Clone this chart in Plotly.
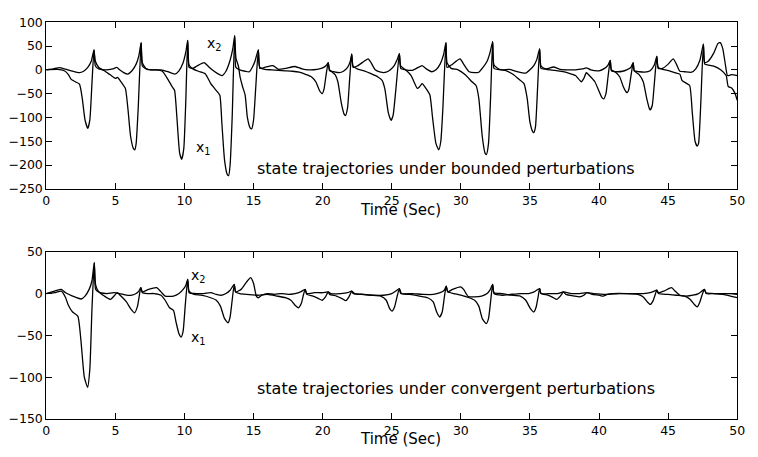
import plotly.graph_objects as go

# ---------------- data: top panel (bounded perturbations) ----------------
t_top_x1 = [0, 0.8, 1.3, 1.6, 1.8, 2.1, 2.4, 2.6, 2.8, 3.0, 3.15, 3.3, 3.45,
            3.55, 3.8, 4.2, 4.6, 5.0, 5.15, 5.4, 5.72,
            5.9, 6.1, 6.3, 6.4, 6.5, 6.65, 6.86,
            6.95, 7.2, 7.6, 8.0, 8.4, 8.8, 9.1, 9.28,
            9.45, 9.65, 9.8, 9.95, 10.1, 10.23,
            10.33, 10.6, 11.0, 11.5, 11.9, 12.2, 12.55,
            12.7, 12.9, 13.1, 13.2, 13.3, 13.45, 13.63,
            13.72, 13.9, 14.03, 14.2, 14.39,
            14.55, 14.75, 14.86, 15.0, 15.15, 15.34,
            15.45, 15.8, 16.3, 16.8, 17.3, 17.8, 18.3, 18.8, 19.2, 19.5, 19.8, 19.97, 20.1, 20.25, 20.4,
            20.5, 20.7, 20.9, 21.1, 21.35, 21.55, 21.65, 21.8, 21.95, 22.1,
            22.2, 22.5, 23.0, 23.5, 24.0, 24.3, 24.5, 24.75, 24.95, 25.1, 25.3, 25.55,
            25.65, 26.0, 26.4, 26.85, 27.0, 27.2, 27.5, 27.76, 27.95, 28.2, 28.4, 28.55, 28.7, 28.92,
            29.0, 29.3, 29.8, 30.3, 30.8, 31.1, 31.3, 31.55, 31.75, 31.85, 32.0, 32.15, 32.3,
            32.4, 32.8, 33.3, 33.8, 34.2, 34.57, 34.8, 35.0, 35.2, 35.28, 35.4, 35.55, 35.7,
            35.8, 36.2, 36.8, 37.4, 37.9, 38.3, 38.72, 38.9, 39.08, 39.3, 39.7, 40.0, 40.2, 40.34, 40.5, 40.65, 40.81,
            40.9, 41.2, 41.5, 41.75, 41.95, 42.04, 42.15, 42.3, 42.47,
            42.55, 42.9, 43.2, 43.45, 43.65, 43.71, 43.85, 44.0, 44.18,
            44.28, 44.6, 45.1, 45.5, 45.85, 46.0, 46.3, 46.56, 46.75, 46.95, 47.1, 47.2, 47.35, 47.55,
            47.65, 47.9, 48.3, 48.8, 49.2, 49.35, 49.6, 49.85, 50.0]
x1_top = [0, 1, -2, -10, -20, -25, -30, -60, -105, -123, -105, -30, 42,
          18, 5, -2, -10, -18, -16, -25, -39,
          -80, -140, -165, -168, -155, -80, 57,
          15, 3, 0, 0, -3, -20, -35, -43,
          -100, -175, -188, -165, -60, 62,
          10, 2, -3, -8, -29, -40, -53,
          -110, -190, -220, -222, -200, -100, 72,
          25, 8, -16, -35, -53,
          -100, -122, -124, -105, -40, 42,
          5, 1, 0, -1, -2, -3, -5, -10, -15, -25, -45, -50, -40, -10, 15,
          0, -5, -10, -25, -70, -93, -96, -80, -20, 33,
          8, 2, -2, -8, -15, -22, -40, -90, -106, -95, -40, 34,
          8, 0, -12, -39, -36, -29, -40, -53, -100, -155, -168, -150, -80, 57,
          15, 3, 0, -10, -25, -33, -60, -140, -175, -178, -155, -60, 59,
          10, 1, -2, -10, -20, -29, -60, -110, -130, -132, -120, -40, 44,
          8, 1, -1, -4, -8, -12, -25, -18, -6, -12, -25, -45, -58, -61, -50, -15, 20,
          0, -5, -15, -35, -46, -48, -42, -15, 15,
          -2, -10, -25, -60, -82, -84, -75, -30, 28,
          5, 1, -2, -6, -9, -22, -28, -33, -90, -150, -160, -155, -80, 54,
          12, 10, 8, 0, -12, -35, -38, -50, -64]

t_top_x2 = [0, 0.5, 0.97, 1.3, 1.8, 2.4, 2.7, 3.0, 3.25, 3.45,
            3.55, 3.8, 4.3, 4.8, 5.1, 5.3, 5.6, 5.9, 6.2, 6.5, 6.7, 6.86,
            6.95, 7.3, 7.8, 8.3, 8.8, 9.3, 9.6, 9.9, 10.1, 10.23,
            10.33, 10.6, 10.9, 11.42, 11.7, 12.0, 12.4, 12.72, 13.0, 13.3, 13.5, 13.63,
            13.72, 14.0, 14.4, 14.7, 14.9, 15.1, 15.34,
            15.45, 15.8, 16.4, 16.8, 17.3, 18.0, 18.5, 19.0, 19.6, 20.0, 20.25, 20.4,
            20.5, 20.8, 21.2, 21.5, 21.8, 22.0, 22.1,
            22.2, 22.5, 23.0, 23.29, 23.5, 23.8, 24.2, 24.6, 24.9, 25.2, 25.4, 25.55,
            25.65, 26.0, 26.5, 27.2, 27.5, 27.9, 28.2, 28.5, 28.75, 28.92,
            29.0, 29.3, 29.94, 30.2, 30.6, 31.0, 31.3, 31.6, 31.9, 32.1, 32.3,
            32.4, 33.0, 33.5, 34.0, 34.69, 35.0, 35.3, 35.5, 35.7,
            35.8, 36.2, 36.7, 37.2, 37.7, 38.3, 38.8, 39.08, 39.4, 40.0, 40.4, 40.65, 40.81,
            40.9, 41.3, 41.7, 42.0, 42.3, 42.47,
            42.55, 42.9, 43.3, 43.7, 44.0, 44.18,
            44.28, 44.6, 45.0, 45.37, 45.6, 45.85, 46.2, 46.7, 47.0, 47.3, 47.55,
            47.65, 47.9, 48.3, 48.6, 48.77, 48.95, 49.15, 49.3, 49.6, 50.0]
x2_top = [0, 2, 4.5, 2, -2, -6, -3, 5, 18, 42,
          8, 2, 0, 2, 5, 0, -6, -9, -2, 12, 30, 57,
          8, 1, 0, 0, -4, -9, -2, 15, 38, 62,
          5, 3, 8, 15, 8, 0, -8, -12, -3, 20, 45, 72,
          5, 0, -3, -4, 5, 18, 42,
          3, 5, 9, 1, 3, 7, 2, 0, 1, 4, 9, 15,
          -2, -4, -6, -3, 5, 18, 33,
          5, 8, 18, 23, 15, 0, -5, -5, 0, 10, 22, 34,
          3, 0, -1, 9, 2, -4, 0, 12, 32, 57,
          5, 10, 23, 12, -4, -6, -5, 5, 18, 35, 59,
          3, 0, 1, -3, -7, 0, 10, 22, 44,
          3, 2, 6, 1, 0, 0, 2, 4, 0, -2, 3, 10, 20,
          -2, -4, -3, 0, 5, 15,
          -2, -4, -5, -2, 10, 28,
          3, 3, 12, 23, 12, -3, -4, -5, 2, 20, 54,
          15, 18, 35, 55, 57, 45, 10, -12, -10, -12]

# ---------------- data: bottom panel (convergent perturbations) ----------------
t_bot_x1 = [0, 0.6, 1.09, 1.4, 1.57, 1.9, 2.28, 2.5, 2.75, 2.99, 3.15, 3.3, 3.47,
            3.57, 3.8, 4.2, 4.65, 4.9, 5.13, 5.4, 5.8, 6.1, 6.39, 6.6, 6.84,
            6.95, 7.3, 7.8, 8.3, 8.6, 8.92, 9.2, 9.4, 9.6, 9.76, 9.9, 10.05, 10.23,
            10.33, 10.7, 11.2, 11.9, 12.3, 12.6, 12.9, 13.15, 13.3, 13.45, 13.6,
            13.7, 14.0, 14.5, 15.3, 16.0, 16.7, 17.3, 17.7, 18.0, 18.25, 18.45, 18.6, 18.73,
            18.85, 19.3, 19.7, 19.97, 20.2, 20.4,
            20.5, 21.0, 21.4, 21.68, 21.9, 22.1,
            22.2, 22.8, 23.5, 24.2, 24.6, 24.85, 25.02, 25.2, 25.38, 25.55,
            25.65, 26.3, 27.0, 27.6, 28.0, 28.25, 28.47, 28.65, 28.8, 28.94,
            29.05, 29.5, 30.0, 30.6, 31.0, 31.3, 31.55, 31.84, 32.0, 32.15, 32.3,
            32.4, 33.0, 33.6, 34.3, 34.7, 35.0, 35.28, 35.45, 35.6, 35.7,
            35.8, 36.3, 36.7, 36.94, 37.2, 37.42,
            37.6, 38.2, 38.6, 38.9, 39.13,
            39.5, 40.0, 40.3, 40.6, 41.0, 42.0, 42.8, 43.2, 43.5, 43.71, 43.9, 44.05, 44.18,
            44.3, 45.0, 45.6, 46.2, 46.6, 46.9, 47.1, 47.3, 47.45, 47.63,
            47.75, 48.3, 49.0, 49.5, 50.0]
x1_bot = [0, 1, 3, -5, -13, -22, -27, -55, -100, -112, -90, -20, 37,
          10, 2, -3, -7, -3, 1, -3, -10, -18, -23, -15, 7,
          1, 0, 0, -2, -8, -17, -20, -35, -48, -52, -45, -15, 17,
          3, -1, -2, -5, -8, -15, -30, -35, -28, -8, 11,
          2, 0, -1, -2, -1, -3, -5, -8, -14, -17, -12, -2, 5,
          -1, -3, -6, -8, -4, 2,
          -1, -3, -6, -8.5, -4, 3,
          0, -1, -2, -3, -8, -18, -21, -16, -4, 6,
          0, -1, -3, -5, -10, -22, -28, -22, -5, 9,
          2, 0, -2, -5, -8, -15, -30, -36, -30, -10, 11,
          1, 0, -2, -3, -8, -17, -22, -16, -3, 6,
          0, -2, -5, -7, -3, 2,
          -1, -3, -4, -2, 1,
          -1, -2, -3, -1, 0, 0, -1, -4, -10, -13, -9, -2, 4,
          0, -1, -2, -3, -7, -13, -16, -10, -2, 5,
          1, 0, -1, -3, -5]

t_bot_x2 = [0, 0.6, 1.09, 1.4, 1.9, 2.52, 2.8, 3.1, 3.3, 3.47,
            3.57, 3.9, 4.4, 4.9, 5.3, 5.8, 6.2, 6.5, 6.7, 6.84,
            6.95, 7.4, 7.98, 8.3, 8.6, 9.2, 9.6, 9.9, 10.1, 10.23,
            10.33, 10.8, 11.4, 11.9, 12.3, 12.7, 13.0, 13.3, 13.6,
            13.7, 14.1, 14.5, 14.79, 15.0, 15.2, 15.34, 15.6, 16.0, 16.5, 17.0, 17.5, 18.0, 18.4, 18.73,
            18.85, 19.4, 20.0, 20.4, 20.6, 21.3, 21.8, 22.1,
            22.3, 23.0, 23.7, 24.4, 25.0, 25.3, 25.55,
            25.7, 26.5, 27.3, 28.0, 28.5, 28.8, 28.94,
            29.05, 29.4, 29.98, 30.2, 30.53, 31.0, 31.5, 31.9, 32.1, 32.3,
            32.4, 33.0, 33.6, 34.3, 34.9, 35.3, 35.7,
            35.8, 36.5, 37.0, 37.42, 38.0, 38.6, 39.13, 39.6, 40.5, 41.5, 42.5, 43.2, 43.7, 44.0, 44.18,
            44.3, 44.7, 45.25, 45.5, 45.85, 46.3, 46.8, 47.2, 47.45, 47.63,
            47.75, 48.3, 49.0, 49.5, 50.0]
x2_bot = [0, 3, 5, 1, -3, -6.5, -3, 5, 15, 37,
          5, 1, 0, 1, 0, -2, -2, 0, 3, 7,
          2, 5, 7, 2, -3, -3, 0, 5, 10, 17,
          1, 0, 0, 1, -1, -2, 0, 4, 11,
          2, 5, 14, 19, 12, -3, -5, -2, 0, -1, 0, -1, 0, 2, 5,
          0, 1, 1, 2, 0, 0, 1, 3,
          0, -1, -2, -2, 0, 3, 6,
          0, 0, -1, -1, 1, 4, 9,
          2, 5, 8, 5, -3.5, -4, -3, 0, 4, 11,
          0, -2, -1, 0, 0, 2, 6,
          0, 0, 0, 2, 0, 0, 1, 0, -1, 0, 0, 0, 1, 3, 4,
          1, 3, 7, 3, -2, -3, -2, 0, 3, 5,
          0, 0, 0, 0, -1]

x_ticks = [0, 5, 10, 15, 20, 25, 30, 35, 40, 45, 50]
y_ticks_top = [-250, -200, -150, -100, -50, 0, 50, 100]
y_ticks_bot = [-150, -100, -50, 0, 50]

W, H = 758, 457
FONT = "DejaVu Sans"

line_style = dict(color="black", width=1.3, shape="spline", smoothing=0.5)

fig = go.Figure()
fig.add_trace(go.Scatter(x=t_top_x1, y=x1_top, mode="lines", line=line_style, xaxis="x", yaxis="y", showlegend=False))
fig.add_trace(go.Scatter(x=t_top_x2, y=x2_top, mode="lines", line=line_style, xaxis="x", yaxis="y", showlegend=False))
fig.add_trace(go.Scatter(x=t_bot_x1, y=x1_bot, mode="lines", line=line_style, xaxis="x2", yaxis="y2", showlegend=False))
fig.add_trace(go.Scatter(x=t_bot_x2, y=x2_bot, mode="lines", line=line_style, xaxis="x2", yaxis="y2", showlegend=False))

x_dom = [43 / W, 745 / W]
top_dom = [(H - 187) / H, (H - 14.7) / H]
bot_dom = [(H - 425) / H, (H - 252) / H]

axis_common = dict(showline=True, linecolor="black", linewidth=1, mirror="ticks",
                   ticks="inside", ticklen=6, tickcolor="black", tickwidth=1,
                   showgrid=False, zeroline=False,
                   tickfont=dict(family=FONT, size=12.5, color="black"))

fig.update_layout(
    width=W, height=H,
    margin=dict(l=0, r=0, t=0, b=0),
    paper_bgcolor="white", plot_bgcolor="white",
    xaxis=dict(domain=x_dom, range=[0, 50], tickvals=x_ticks, anchor="y", **axis_common),
    yaxis=dict(domain=top_dom, range=[-250, 100], tickvals=y_ticks_top, anchor="x", **axis_common),
    xaxis2=dict(domain=x_dom, range=[0, 50], tickvals=x_ticks, anchor="y2", **axis_common),
    yaxis2=dict(domain=bot_dom, range=[-150, 50], tickvals=y_ticks_bot, anchor="x2", **axis_common),
)

def px_x(p):
    return p / W

def px_y(p):
    return (H - p) / H

ann_font = dict(family=FONT, size=16, color="black")
title_font = dict(family=FONT, size=15, color="black")
lbl_font = dict(family=FONT, size=14, color="black")
annotations = [
    dict(text="Time (Sec)", x=px_x(403), y=px_y(209), xref="paper", yref="paper", yanchor="middle",
         showarrow=False, font=title_font),
    dict(text="Time (Sec)", x=px_x(403), y=px_y(446), xref="paper", yref="paper", yanchor="middle",
         showarrow=False, font=title_font),
    dict(text="state trajectories under bounded perturbations", x=px_x(255), y=px_y(166),
         xref="paper", yref="paper", xanchor="left", yanchor="middle", showarrow=False, font=ann_font),
    dict(text="state trajectories under convergent perturbations", x=px_x(255), y=px_y(393),
         xref="paper", yref="paper", xanchor="left", yanchor="middle", showarrow=False, font=ann_font),
    dict(text="x<sub>2</sub>", x=11.45, y=55, xref="x", yref="y", xanchor="left", yanchor="middle",
         showarrow=False, font=lbl_font),
    dict(text="x<sub>1</sub>", x=10.7, y=-165, xref="x", yref="y", xanchor="left", yanchor="middle",
         showarrow=False, font=lbl_font),
    dict(text="x<sub>2</sub>", x=10.35, y=21, xref="x2", yref="y2", xanchor="left", yanchor="middle",
         showarrow=False, font=lbl_font),
    dict(text="x<sub>1</sub>", x=10.35, y=-53, xref="x2", yref="y2", xanchor="left", yanchor="middle",
         showarrow=False, font=lbl_font),
]
fig.update_layout(annotations=annotations)

fig.write_html("out.html")
